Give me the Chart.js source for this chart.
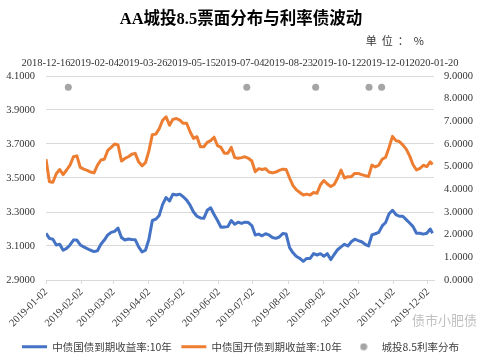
<!DOCTYPE html>
<html><head><meta charset="utf-8">
<style>html,body{margin:0;padding:0;background:#fff}#wrap{width:481px;height:359px;position:relative}</style>
<script src="https://cdn.jsdelivr.net/npm/chart.js@4.4.1/dist/chart.umd.min.js"></script>
</head><body><div id="wrap"><canvas id="c" width="481" height="359"></canvas></div>
<script>
const titleText = 'AA城投8.5票面分布与利率债波动';
const unitText = '单位：%';
const watermarkText = '债市小肥债';
const seriesNames = ['中债国债到期收益率:10年', '中债国开债到期收益率:10年', '城投8.5利率分布'];

const dates = [
'2019-01-02','2019-01-05','2019-01-08','2019-01-11','2019-01-14','2019-01-17','2019-01-20','2019-01-23','2019-01-26','2019-01-29',
'2019-02-01','2019-02-04','2019-02-07','2019-02-10','2019-02-13','2019-02-16','2019-02-19','2019-02-22','2019-02-25','2019-02-28',
'2019-03-03','2019-03-06','2019-03-09','2019-03-12','2019-03-15','2019-03-18','2019-03-21','2019-03-24','2019-03-27','2019-03-30',
'2019-04-02','2019-04-05','2019-04-08','2019-04-11','2019-04-14','2019-04-17','2019-04-20','2019-04-23','2019-04-26','2019-04-29',
'2019-05-02','2019-05-05','2019-05-08','2019-05-11','2019-05-14','2019-05-17','2019-05-20','2019-05-23','2019-05-26','2019-05-29',
'2019-06-01','2019-06-04','2019-06-07','2019-06-10','2019-06-13','2019-06-16','2019-06-19','2019-06-22','2019-06-25','2019-06-28',
'2019-07-01','2019-07-04','2019-07-07','2019-07-10','2019-07-13','2019-07-16','2019-07-19','2019-07-22','2019-07-25','2019-07-28',
'2019-07-31','2019-08-03','2019-08-06','2019-08-09','2019-08-12','2019-08-15','2019-08-18','2019-08-21','2019-08-24','2019-08-27',
'2019-08-30','2019-09-02','2019-09-05','2019-09-08','2019-09-11','2019-09-14','2019-09-17','2019-09-20','2019-09-23','2019-09-26',
'2019-09-29','2019-10-02','2019-10-05','2019-10-08','2019-10-11','2019-10-14','2019-10-17','2019-10-20','2019-10-23','2019-10-26',
'2019-10-29','2019-11-01','2019-11-04','2019-11-07','2019-11-10','2019-11-13','2019-11-16','2019-11-19','2019-11-22','2019-11-25',
'2019-11-28','2019-12-01','2019-12-04','2019-12-06'
];

const govYield = [
3.175,3.145,3.14,3.106,3.11,3.075,3.086,3.106,3.135,3.135,
3.106,3.095,3.085,3.075,3.067,3.072,3.11,3.135,3.165,3.18,
3.186,3.205,3.15,3.135,3.141,3.138,3.137,3.095,3.065,3.075,
3.14,3.25,3.258,3.28,3.345,3.385,3.365,3.405,3.40,3.405,
3.39,3.37,3.34,3.30,3.275,3.265,3.263,3.31,3.325,3.285,
3.25,3.21,3.212,3.214,3.25,3.228,3.24,3.233,3.24,3.238,
3.22,3.165,3.17,3.16,3.172,3.165,3.15,3.145,3.153,3.173,
3.17,3.09,3.06,3.038,3.027,3.01,3.027,3.027,3.055,3.047,
3.055,3.04,3.055,3.02,3.05,3.078,3.095,3.11,3.10,3.125,
3.14,3.132,3.125,3.11,3.10,3.165,3.172,3.18,3.218,3.238,
3.29,3.31,3.285,3.275,3.275,3.255,3.235,3.214,3.175,3.175,
3.17,3.175,3.2,3.175
];

const cdbYield = [
3.61,3.478,3.475,3.525,3.55,3.52,3.547,3.576,3.625,3.63,
3.562,3.552,3.545,3.535,3.53,3.575,3.606,3.61,3.662,3.68,
3.70,3.694,3.60,3.615,3.625,3.64,3.645,3.595,3.572,3.59,
3.66,3.755,3.758,3.79,3.84,3.86,3.81,3.845,3.85,3.84,
3.822,3.822,3.772,3.733,3.743,3.684,3.684,3.71,3.72,3.74,
3.69,3.68,3.645,3.645,3.68,3.62,3.616,3.62,3.625,3.616,
3.60,3.537,3.555,3.55,3.555,3.535,3.53,3.535,3.545,3.552,
3.55,3.50,3.455,3.43,3.415,3.40,3.405,3.40,3.415,3.41,
3.46,3.485,3.465,3.45,3.462,3.50,3.547,3.50,3.508,3.508,
3.527,3.527,3.52,3.514,3.508,3.576,3.565,3.575,3.61,3.622,
3.68,3.745,3.72,3.715,3.695,3.67,3.63,3.578,3.547,3.557,
3.575,3.567,3.595,3.58
];

const couponDates = ['2019-01-08','2019-07-11','2019-09-20','2019-11-14','2019-11-27'];
const couponRates = [8.5, 8.5, 8.5, 8.5, 8.5];

const bottomTickLabels = ['2019-01-02','2019-02-02','2019-03-02','2019-04-02','2019-05-02','2019-06-02',
  '2019-07-02','2019-08-02','2019-09-02','2019-10-02','2019-11-02','2019-12-02'];
const topTickLabels = ['2018-12-16','2019-02-04','2019-03-26','2019-05-15','2019-07-04',
  '2019-08-23','2019-10-12','2019-12-01','2020-01-20'];
const leftTicks = [2.9, 3.1, 3.3, 3.5, 3.7, 3.9, 4.1];
const rightTicks = [0, 1, 2, 3, 4, 5, 6, 7, 8, 9];

const DAY = 86400000;
const baseBottom = Date.parse(bottomTickLabels[0]);
const baseTop = Date.parse(topTickLabels[0]);
const dB = s => (Date.parse(s) - baseBottom) / DAY;
const dT = s => (Date.parse(s) - baseTop) / DAY;

const BLUE = '#4472C4', ORANGE = '#ED7D31', GREY = '#A5A5A5';
const tickFont = {family: "'Liberation Serif', 'Times New Roman', serif", size: 10.5};
const tickColor = '#333333';

const dot = document.createElement('canvas');
dot.width = 8; dot.height = 8;
(function(){ const g = dot.getContext('2d'); g.fillStyle = GREY; g.beginPath(); g.arc(4,4,3.5,0,Math.PI*2); g.fill(); })();

const textPlugin = {
  id: 'texts',
  afterDraw(chart) {
    const ctx = chart.ctx;
    ctx.save();
    ctx.fillStyle = '#000';
    ctx.font = "bold 16.5px 'Liberation Serif', 'Noto Sans CJK SC'";
    ctx.textAlign = 'center';
    ctx.textBaseline = 'middle';
    ctx.fillText(titleText, 241, 20);
    ctx.font = "11px 'Noto Sans CJK SC'";
    ctx.textAlign = 'right';
    ctx.fillStyle = '#333';
    try { ctx.letterSpacing = '5px'; } catch(e) {}
    ctx.fillText(unitText, 429, 41);
    try { ctx.letterSpacing = '0px'; } catch(e) {}
    ctx.font = "13px 'Noto Sans CJK SC'";
    ctx.textAlign = 'left';
    ctx.fillStyle = 'rgba(150,150,150,0.6)';
    ctx.fillText(watermarkText, 412, 320);
    ctx.restore();
  }
};

new Chart(document.getElementById('c'), {
  type: 'line',
  data: {
    datasets: [
      { label: seriesNames[0], data: dates.map((d,i)=>({x: dB(d), y: govYield[i]})), borderColor: BLUE, backgroundColor: BLUE,
        borderWidth: 3, pointRadius: 0, borderJoinStyle: 'round', xAxisID: 'x', yAxisID: 'y' },
      { label: seriesNames[1], data: dates.map((d,i)=>({x: dB(d), y: cdbYield[i]})), borderColor: ORANGE, backgroundColor: ORANGE,
        borderWidth: 3, pointRadius: 0, borderJoinStyle: 'round', xAxisID: 'x', yAxisID: 'y' },
      { type: 'scatter', label: seriesNames[2], data: couponDates.map((d,i)=>({x: dT(d), y: couponRates[i]})),
        backgroundColor: GREY, borderColor: GREY, borderWidth: 0, pointRadius: 3.5, xAxisID: 'x2', yAxisID: 'y2' }
    ]
  },
  options: {
    responsive: false, animation: false, devicePixelRatio: 1,
    layout: { padding: { top: 0, left: 0, right: 0, bottom: -3 } },
    plugins: {
      tooltip: { enabled: false },
      title: { display: false },
      legend: {
        position: 'bottom',
        labels: {
          usePointStyle: true, pointStyleWidth: 25, padding: 9.5,
          font: { family: "'Noto Sans CJK SC'", size: 10.5 }, color: '#404040',
          generateLabels(chart) {
            const items = Chart.defaults.plugins.legend.labels.generateLabels(chart);
            items.forEach((it, i) => {
              if (i < 2) { it.pointStyle = 'line'; it.lineWidth = 3; it.strokeStyle = i === 0 ? BLUE : ORANGE; }
              else { it.pointStyle = dot; it.lineWidth = 0; }
            });
            return items;
          }
        }
      }
    },
    scales: {
      x: {
        type: 'linear', position: 'bottom', min: 0, max: 339.3,
        afterBuildTicks: s => { s.ticks = bottomTickLabels.map(l => ({ value: dB(l) })); },
        ticks: { autoSkip: false, minRotation: 45, maxRotation: 45, padding: 2, font: tickFont, color: tickColor,
          callback: (v, i) => bottomTickLabels[i] },
        grid: { drawOnChartArea: false, drawTicks: true, tickLength: 4, color: '#D9D9D9' },
        border: { display: true, color: '#D9D9D9' },
        afterFit: s => { s.height = 52; }
      },
      x2: {
        type: 'linear', position: 'top', min: 0, max: 400,
        afterBuildTicks: s => { s.ticks = topTickLabels.map(l => ({ value: dT(l) })); },
        ticks: { autoSkip: false, minRotation: 0, maxRotation: 0, padding: 6, font: tickFont, color: tickColor,
          callback: (v, i) => topTickLabels[i] },
        grid: { display: false, drawTicks: false },
        border: { display: false },
        afterFit: s => { s.height = 76; }
      },
      y: {
        position: 'left', min: 2.9, max: 4.1,
        afterBuildTicks: s => { s.ticks = leftTicks.map(v => ({ value: v })); },
        ticks: { padding: 11, font: tickFont, color: tickColor, callback: v => Number(v).toFixed(4) },
        grid: { color: '#D9D9D9', drawTicks: false },
        border: { display: false },
        afterFit: s => { s.width = 46; }
      },
      y2: {
        position: 'right', min: 0, max: 9,
        afterBuildTicks: s => { s.ticks = rightTicks.map(v => ({ value: v })); },
        ticks: { padding: 10, font: tickFont, color: tickColor, callback: v => Number(v).toFixed(4) },
        grid: { display: false, drawTicks: false },
        border: { display: false },
        afterFit: s => { s.width = 47; }
      }
    }
  },
  plugins: [textPlugin]
});
</script></body></html>
